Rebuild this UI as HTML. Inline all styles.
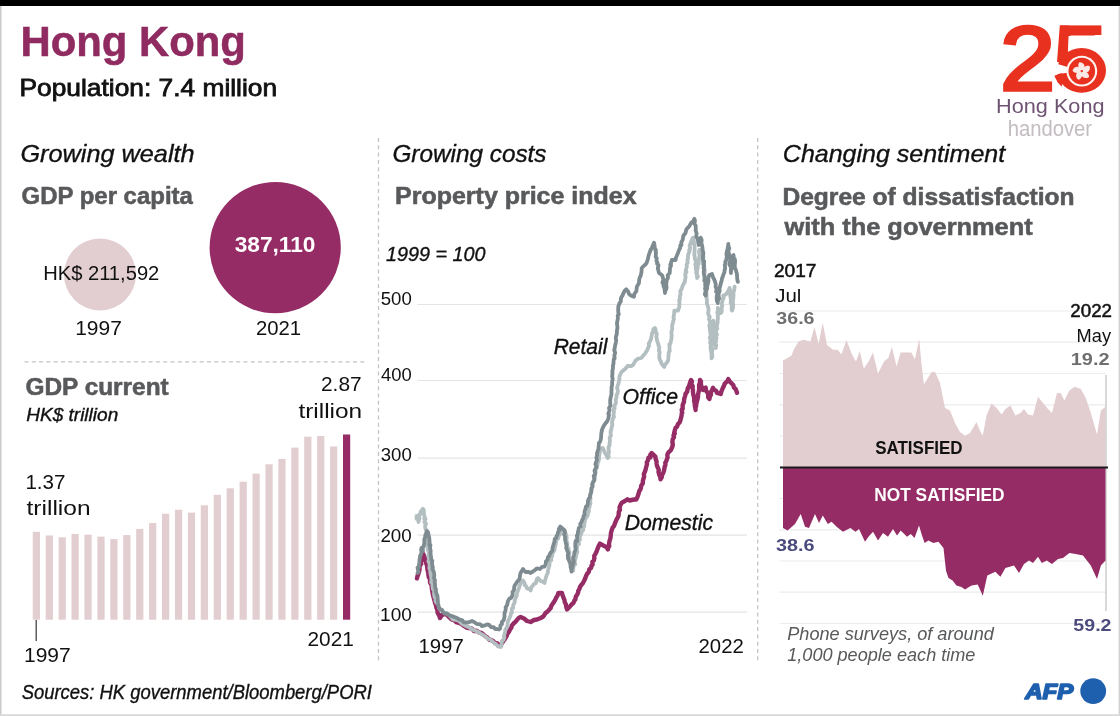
<!DOCTYPE html>
<html lang="en">
<head>
<meta charset="utf-8">
<title>Hong Kong</title>
<style>
html,body{margin:0;padding:0;background:#fff;}
body{width:1120px;height:716px;overflow:hidden;font-family:'Liberation Sans', sans-serif;}
svg{display:block;font-family:'Liberation Sans', sans-serif;}
</style>
</head>
<body>
<svg width="1120" height="716" viewBox="0 0 1120 716">
<rect x="0" y="0" width="1120" height="716" fill="#ffffff"/>
<rect x="0" y="0" width="1120" height="6" fill="#000000"/>
<rect x="0" y="6" width="1.5" height="710" fill="#c9c9c9"/>
<rect x="1118.6" y="6" width="1.4" height="710" fill="#d2d2d2"/>
<rect x="0" y="714.2" width="1120" height="1.8" fill="#dadada"/>
<text x="20.49" y="55.6" font-size="42" font-weight="bold" font-style="normal" fill="#8f2b60" textLength="225.29" lengthAdjust="spacingAndGlyphs" stroke="#8f2b60" stroke-width="0.5">Hong Kong</text>
<text x="19.54" y="95.5" font-size="23.4" font-weight="normal" font-style="normal" fill="#111" textLength="257.53" lengthAdjust="spacingAndGlyphs" stroke="#111" stroke-width="0.8">Population: 7.4 million</text>
<line x1="378.5" y1="138" x2="378.5" y2="661" stroke="#c4c4c4" stroke-width="1.3" stroke-dasharray="4 3.3"/>
<line x1="757.7" y1="138" x2="757.7" y2="661" stroke="#c4c4c4" stroke-width="1.3" stroke-dasharray="4 3.3"/>
<line x1="24.5" y1="361.8" x2="367" y2="361.8" stroke="#c4c4c4" stroke-width="1.3" stroke-dasharray="4 3.3"/>
<text x="20.42" y="161.7" font-size="24" font-weight="normal" font-style="italic" fill="#111" textLength="174.21" lengthAdjust="spacingAndGlyphs" stroke="#111" stroke-width="0.35">Growing wealth</text>
<text x="21.55" y="204.4" font-size="23.3" font-weight="bold" font-style="normal" fill="#58595b" textLength="171.30" lengthAdjust="spacingAndGlyphs" stroke="#58595b" stroke-width="0.55">GDP per capita</text>
<circle cx="100" cy="274.5" r="36" fill="#e2cdd0"/>
<circle cx="275.2" cy="247.6" r="65.6" fill="#962c65"/>
<text x="43.13" y="280" font-size="20.3" font-weight="normal" font-style="normal" fill="#111" textLength="116.19" lengthAdjust="spacingAndGlyphs">HK$ 211,592</text>
<text x="234.65" y="252.2" font-size="21.6" font-weight="bold" font-style="normal" fill="#ffffff" textLength="80.77" lengthAdjust="spacingAndGlyphs">387,110</text>
<text x="75.19" y="335" font-size="20.3" font-weight="normal" font-style="normal" fill="#111" textLength="46.66" lengthAdjust="spacingAndGlyphs">1997</text>
<text x="255.95" y="335" font-size="20.3" font-weight="normal" font-style="normal" fill="#111" textLength="45.17" lengthAdjust="spacingAndGlyphs">2021</text>
<text x="25.44" y="394.9" font-size="23.3" font-weight="bold" font-style="normal" fill="#58595b" textLength="143.28" lengthAdjust="spacingAndGlyphs" stroke="#58595b" stroke-width="0.55">GDP current</text>
<text x="26.20" y="421" font-size="17.8" font-weight="normal" font-style="italic" fill="#111" textLength="92.07" lengthAdjust="spacingAndGlyphs" stroke="#111" stroke-width="0.35">HK$ trillion</text>
<text x="321.02" y="391.3" font-size="20.5" font-weight="normal" font-style="normal" fill="#111" textLength="40.62" lengthAdjust="spacingAndGlyphs">2.87</text>
<text x="298.40" y="417.7" font-size="20.5" font-weight="normal" font-style="normal" fill="#111" textLength="63.77" lengthAdjust="spacingAndGlyphs">trillion</text>
<text x="25.41" y="488.7" font-size="20.5" font-weight="normal" font-style="normal" fill="#111" textLength="40.02" lengthAdjust="spacingAndGlyphs">1.37</text>
<text x="26.50" y="515" font-size="20.5" font-weight="normal" font-style="normal" fill="#111" textLength="64.08" lengthAdjust="spacingAndGlyphs">trillion</text>
<rect x="32.75" y="531.8" width="7.2" height="87.9" fill="#e2cdd0"/>
<rect x="45.68" y="535.5" width="7.2" height="84.2" fill="#e2cdd0"/>
<rect x="58.60" y="537.3" width="7.2" height="82.4" fill="#e2cdd0"/>
<rect x="71.53" y="534.0" width="7.2" height="85.7" fill="#e2cdd0"/>
<rect x="84.46" y="534.7" width="7.2" height="85.0" fill="#e2cdd0"/>
<rect x="97.39" y="536.6" width="7.2" height="83.1" fill="#e2cdd0"/>
<rect x="110.31" y="539.1" width="7.2" height="80.6" fill="#e2cdd0"/>
<rect x="123.24" y="535.1" width="7.2" height="84.6" fill="#e2cdd0"/>
<rect x="136.17" y="528.9" width="7.2" height="90.8" fill="#e2cdd0"/>
<rect x="149.09" y="523.1" width="7.2" height="96.6" fill="#e2cdd0"/>
<rect x="162.02" y="513.7" width="7.2" height="106.0" fill="#e2cdd0"/>
<rect x="174.95" y="509.7" width="7.2" height="110.0" fill="#e2cdd0"/>
<rect x="187.88" y="512.6" width="7.2" height="107.1" fill="#e2cdd0"/>
<rect x="200.80" y="505.3" width="7.2" height="114.4" fill="#e2cdd0"/>
<rect x="213.73" y="494.8" width="7.2" height="124.9" fill="#e2cdd0"/>
<rect x="226.66" y="488.3" width="7.2" height="131.4" fill="#e2cdd0"/>
<rect x="239.58" y="481.7" width="7.2" height="138.0" fill="#e2cdd0"/>
<rect x="252.51" y="473.7" width="7.2" height="146.0" fill="#e2cdd0"/>
<rect x="265.44" y="464.3" width="7.2" height="155.4" fill="#e2cdd0"/>
<rect x="278.36" y="458.9" width="7.2" height="160.8" fill="#e2cdd0"/>
<rect x="291.29" y="447.6" width="7.2" height="172.1" fill="#e2cdd0"/>
<rect x="304.22" y="436.7" width="7.2" height="183.0" fill="#e2cdd0"/>
<rect x="317.15" y="436.0" width="7.2" height="183.7" fill="#e2cdd0"/>
<rect x="330.07" y="446.5" width="7.2" height="173.2" fill="#e2cdd0"/>
<rect x="343.00" y="434.5" width="7.2" height="185.2" fill="#962c65"/>
<line x1="36.2" y1="620" x2="36.2" y2="641" stroke="#444" stroke-width="1.3"/>
<text x="23.99" y="661.5" font-size="20.3" font-weight="normal" font-style="normal" fill="#111" textLength="46.77" lengthAdjust="spacingAndGlyphs">1997</text>
<text x="307.52" y="645.9" font-size="20.3" font-weight="normal" font-style="normal" fill="#111" textLength="46.32" lengthAdjust="spacingAndGlyphs">2021</text>
<text x="21.71" y="699" font-size="19.6" font-weight="normal" font-style="italic" fill="#111" textLength="350.22" lengthAdjust="spacingAndGlyphs" stroke="#111" stroke-width="0.35">Sources: HK government/Bloomberg/PORI</text>
<text x="392.46" y="161.7" font-size="24" font-weight="normal" font-style="italic" fill="#111" textLength="154.02" lengthAdjust="spacingAndGlyphs" stroke="#111" stroke-width="0.35">Growing costs</text>
<text x="395.14" y="204.4" font-size="23.3" font-weight="bold" font-style="normal" fill="#58595b" textLength="241.40" lengthAdjust="spacingAndGlyphs" stroke="#58595b" stroke-width="0.55">Property price index</text>
<text x="385.99" y="260.7" font-size="20.3" font-weight="normal" font-style="italic" fill="#111" textLength="99.48" lengthAdjust="spacingAndGlyphs" stroke="#111" stroke-width="0.35">1999 = 100</text>
<line x1="417.5" y1="304.5" x2="747" y2="304.5" stroke="#e4e4e4" stroke-width="1.2"/>
<text x="380.72" y="304.6" font-size="18.2" font-weight="normal" font-style="normal" fill="#111" textLength="31.04" lengthAdjust="spacingAndGlyphs">500</text>
<line x1="417.5" y1="380.5" x2="747" y2="380.5" stroke="#e4e4e4" stroke-width="1.2"/>
<text x="381.01" y="380.6" font-size="18.2" font-weight="normal" font-style="normal" fill="#111" textLength="30.75" lengthAdjust="spacingAndGlyphs">400</text>
<line x1="417.5" y1="458.2" x2="747" y2="458.2" stroke="#e4e4e4" stroke-width="1.2"/>
<text x="380.72" y="461" font-size="18.2" font-weight="normal" font-style="normal" fill="#111" textLength="31.04" lengthAdjust="spacingAndGlyphs">300</text>
<line x1="417.5" y1="535.1" x2="747" y2="535.1" stroke="#e4e4e4" stroke-width="1.2"/>
<text x="380.42" y="541.5" font-size="18.2" font-weight="normal" font-style="normal" fill="#111" textLength="31.35" lengthAdjust="spacingAndGlyphs">200</text>
<line x1="417.5" y1="612.1" x2="747" y2="612.1" stroke="#e4e4e4" stroke-width="1.2"/>
<text x="380.11" y="620.5" font-size="18.2" font-weight="normal" font-style="normal" fill="#111" textLength="31.66" lengthAdjust="spacingAndGlyphs">100</text>
<text x="418.42" y="653.3" font-size="20.3" font-weight="normal" font-style="normal" fill="#111" textLength="45.40" lengthAdjust="spacingAndGlyphs">1997</text>
<text x="698.55" y="652.6" font-size="20.3" font-weight="normal" font-style="normal" fill="#111" textLength="45.28" lengthAdjust="spacingAndGlyphs">2022</text>
<polyline points="417.0,578.4 417.4,576.4 418.2,574.3 419.0,572.0 419.6,569.1 419.2,568.7 419.9,565.5 421.2,563.9 421.0,562.0 422.0,560.0 422.3,557.3 422.9,556.7 423.3,554.0 424.1,556.5 425.0,557.1 425.5,560.0 426.2,562.2 426.1,563.1 427.1,565.9 427.4,568.8 427.5,570.0 428.3,573.0 428.4,575.0 428.9,577.5 430.0,578.0 430.0,581.0 430.1,582.6 431.6,585.3 431.7,587.2 432.0,589.6 432.5,592.0 432.8,594.4 433.6,597.2 434.2,599.5 434.9,601.8 435.0,603.0 435.7,604.3 436.5,607.9 437.1,609.1 437.4,610.4 437.7,613.0 439.2,615.6 440.0,618.0 442.0,615.0 445.0,614.0 446.7,614.6 449.0,617.0 451.9,619.5 454.0,620.0 456.0,622.1 459.0,623.0 461.4,623.8 464.0,626.0 466.3,627.5 469.0,628.0 471.9,628.6 474.0,631.0 476.6,630.8 479.0,632.5 481.3,632.9 483.0,634.0 485.5,636.5 487.0,637.0 489.0,639.5 491.0,640.0 492.8,640.7 495.0,643.0 497.0,643.1 498.3,644.8 500.5,646.0 501.8,643.3 502.3,642.7 504.0,640.0 504.8,639.2 506.5,636.3 507.0,634.8 508.0,633.0 509.1,631.4 510.0,629.6 511.4,627.5 511.8,625.7 514.0,623.0 515.4,621.9 517.0,620.0 518.5,618.1 520.6,617.0 524.0,618.5 527.0,621.0 530.6,622.0 534.0,620.0 537.0,619.5 540.7,618.0 542.9,616.8 544.0,615.5 545.6,612.8 547.0,612.0 548.7,610.2 550.7,608.0 551.2,606.2 553.1,603.1 554.0,602.0 555.2,599.7 556.4,597.2 557.5,595.7 558.3,593.0 562.0,593.0 562.3,594.5 563.9,598.6 564.5,600.0 564.8,602.3 565.9,604.3 566.2,606.7 567.0,609.4 568.3,608.1 570.0,606.5 571.5,604.5 573.4,603.0 574.6,600.1 575.3,599.5 575.9,596.4 577.0,595.0 578.1,592.6 578.2,591.1 579.6,588.5 579.9,587.1 580.9,585.5 582.9,583.1 584.0,581.0 585.4,578.0 585.8,576.6 587.0,574.0 588.8,571.9 589.3,569.2 591.0,568.0 591.6,565.4 592.6,564.8 592.4,561.7 593.8,560.5 594.4,558.0 594.2,555.9 595.2,554.4 596.7,551.2 597.5,549.0 598.6,546.1 600.0,543.6 601.9,544.6 604.0,546.0 606.5,547.1 608.0,549.5 607.8,548.3 609.2,546.2 609.0,544.0 609.5,541.0 610.4,538.4 610.5,537.6 610.8,534.9 611.0,532.8 611.7,530.2 612.7,527.4 614.0,526.0 615.0,523.2 616.2,520.4 616.8,519.0 618.0,517.1 618.6,515.1 618.8,512.0 619.9,509.7 619.5,507.5 620.7,504.5 622.0,502.6 624.0,501.5 625.9,500.4 627.5,499.2 629.4,500.5 631.5,500.0 634.0,499.5 636.3,499.6 636.7,498.5 637.7,496.4 638.5,494.0 639.2,491.3 640.2,489.8 640.9,488.2 641.2,485.8 642.7,483.6 642.9,480.7 643.8,477.6 644.1,477.1 643.9,473.8 644.7,472.2 645.5,470.0 646.0,467.6 647.0,464.3 646.8,462.2 647.9,460.6 648.4,457.8 650.4,457.5 650.3,454.9 651.7,453.0 653.3,454.5 655.4,456.8 655.7,459.3 656.5,461.0 656.6,463.2 657.0,465.9 658.0,468.0 658.8,470.0 658.5,471.9 659.3,475.0 660.3,476.9 660.5,479.4 661.7,477.4 662.2,474.7 663.1,473.2 664.0,470.6 664.3,469.0 664.8,466.2 665.4,465.1 665.3,462.6 666.1,461.6 667.2,458.6 667.6,457.5 667.3,454.9 668.0,453.0 668.8,452.0 670.7,450.4 671.8,448.0 672.5,446.3 672.8,444.1 672.4,442.2 672.7,439.3 674.0,437.1 673.5,435.2 674.8,433.4 674.2,432.7 674.7,430.7 675.5,428.0 677.0,426.7 678.0,424.0 679.8,422.2 680.5,420.0 681.2,417.1 681.5,416.0 681.8,413.2 682.2,412.9 681.7,409.6 682.7,408.7 682.6,405.4 683.0,404.2 684.0,401.8 684.0,400.0 684.5,397.7 685.2,395.7 685.5,393.9 687.2,391.6 687.6,389.1 688.0,387.7 689.0,386.3 689.7,383.9 690.2,382.2 691.0,380.0 691.9,381.3 691.3,384.5 692.7,386.0 692.5,388.4 693.0,390.0 692.9,391.5 693.2,394.2 693.6,395.5 694.3,398.9 694.1,400.4 694.5,402.7 694.9,403.5 694.7,405.0 695.3,407.8 695.6,410.0 695.5,407.6 696.1,406.3 696.2,404.6 696.9,401.6 697.3,400.0 698.0,397.3 698.0,395.0 698.3,393.3 699.0,390.5 699.1,389.5 699.1,385.9 699.1,384.7 699.9,383.1 700.0,380.0 701.0,381.5 700.8,383.5 701.4,386.4 702.8,388.8 703.0,390.0 705.7,387.7 706.1,390.7 707.0,392.1 708.2,393.7 708.2,397.4 709.4,399.0 709.9,396.5 710.9,394.8 711.0,391.9 712.2,389.9 713.0,387.7 714.0,389.6 716.2,390.9 717.0,392.8 720.7,394.0 721.5,391.2 721.9,390.3 722.5,388.8 724.2,385.2 724.5,384.0 726.3,382.1 727.4,381.2 728.3,379.0 729.7,381.4 731.8,383.6 733.3,385.0 733.9,387.5 735.7,389.2 736.1,390.1 737.0,392.8" fill="none" stroke="#962c65" stroke-width="4.4" stroke-linejoin="round" stroke-linecap="round"/>
<polyline points="416.5,516.0 416.6,518.9 418.2,519.4 418.5,522.0 418.9,519.9 419.5,518.7 419.1,514.8 420.6,513.8 420.5,512.0 422.8,508.8 423.8,510.0 423.9,514.2 424.5,516.0 424.3,519.1 425.5,518.8 424.4,522.1 426.0,523.7 425.1,525.8 425.1,527.3 426.0,530.0 426.1,532.0 425.9,533.3 426.1,535.9 426.4,536.8 427.3,540.1 427.2,541.2 427.9,544.9 426.8,545.6 427.5,548.0 428.1,550.5 428.6,551.8 428.7,554.4 428.1,556.2 429.2,558.9 428.8,560.2 428.4,561.4 429.7,563.8 429.5,566.0 429.3,568.1 430.4,570.4 430.2,571.8 430.7,574.7 431.0,575.7 431.2,576.8 431.5,580.0 431.2,582.5 432.9,584.2 432.4,585.2 432.9,589.2 433.7,590.1 434.2,591.3 434.0,594.0 434.6,597.4 435.4,598.4 435.5,600.9 436.5,603.0 438.4,604.3 439.0,608.0 440.9,610.3 442.0,611.0 444.6,612.6 446.0,613.0 448.1,614.4 449.4,615.5 451.0,617.0 452.8,619.4 456.0,620.0 458.6,620.7 461.0,623.0 463.5,624.5 466.0,626.0 468.3,626.9 471.0,628.5 473.6,630.1 476.0,631.0 478.7,632.4 481.0,634.0 482.8,634.8 486.0,637.0 488.0,638.7 491.0,640.0 493.2,642.1 494.8,643.5 496.0,644.0 497.9,646.4 500.5,647.0 501.8,643.6 501.8,641.1 503.5,640.0 504.4,637.4 503.9,636.3 504.8,632.9 505.0,632.1 505.5,629.4 506.5,628.0 507.5,625.8 507.6,623.8 507.8,621.6 509.0,619.0 509.2,618.7 510.5,615.7 511.1,613.0 511.9,612.6 511.7,608.7 513.0,608.0 513.0,606.5 513.5,604.5 514.8,602.1 514.6,601.2 515.5,598.0 516.8,595.5 516.8,593.4 518.0,590.5 518.7,588.5 519.4,586.5 520.5,584.0 521.1,581.7 523.0,580.5 524.7,583.3 524.7,585.1 526.0,586.0 527.2,588.6 529.4,588.8 530.6,590.5 531.4,587.1 533.4,585.0 534.0,584.0 535.8,583.2 536.8,579.2 538.0,578.0 540.1,580.7 541.0,581.0 543.1,582.0 544.5,583.0 545.0,580.5 545.4,579.3 546.4,576.0 546.6,575.1 547.9,572.6 548.0,570.3 548.4,569.0 549.6,564.6 549.4,563.6 549.6,561.2 551.3,560.3 551.0,556.9 552.1,556.4 552.4,553.6 553.8,551.2 554.5,550.1 554.6,548.8 555.4,545.6 555.8,543.9 556.3,540.3 558.3,538.1 558.4,536.6 559.8,534.5 560.9,531.6 561.4,529.6 564.9,530.6 565.1,532.2 566.3,535.2 566.8,538.1 566.0,539.4 566.4,540.3 567.4,543.6 567.1,546.6 568.6,548.7 568.3,550.3 569.3,551.8 569.4,553.5 569.0,555.8 570.6,558.6 570.4,560.6 571.6,562.5 571.3,565.3 572.7,565.4 573.1,567.6 573.4,570.6 573.2,569.6 573.5,565.9 575.3,564.4 574.3,561.8 574.9,561.2 575.1,559.6 575.8,557.8 576.4,554.6 577.4,552.1 576.8,550.5 576.9,549.0 577.2,545.4 579.0,544.1 578.8,542.5 578.8,539.5 580.0,539.8 579.8,536.6 581.4,533.4 581.2,532.4 583.2,530.0 583.4,527.6 584.3,526.0 584.2,523.7 584.9,521.0 585.2,519.1 586.4,517.6 587.7,515.5 587.8,514.0 588.9,511.3 588.5,509.2 589.4,507.6 589.4,506.4 590.5,503.1 589.9,501.6 590.5,499.7 590.3,496.3 590.5,494.4 591.2,492.4 591.4,491.4 591.2,489.6 592.0,487.9 592.7,486.0 592.6,483.0 594.0,479.8 594.7,478.0 594.9,477.9 594.9,474.6 595.8,472.1 595.2,470.5 596.9,468.0 597.3,465.5 597.8,463.2 597.4,463.3 598.5,461.3 599.1,458.9 599.0,456.2 599.8,452.8 600.0,451.0 601.2,448.6 602.7,448.0 604.2,450.9 605.0,453.0 606.0,454.4 607.7,458.0 608.7,456.8 608.3,454.1 609.0,451.9 608.6,449.6 608.6,446.8 609.5,445.8 609.5,444.0 609.9,440.9 609.8,439.1 609.7,437.4 611.0,435.7 610.6,434.3 610.6,430.8 611.3,430.0 611.5,428.0 612.0,425.8 612.4,424.6 612.0,422.0 612.7,419.3 612.9,418.2 614.0,417.0 613.4,414.4 614.0,412.0 613.6,408.8 614.6,408.7 614.4,406.3 615.8,403.0 615.9,402.2 615.7,399.8 616.5,397.4 616.5,395.0 617.4,393.8 617.9,390.8 617.1,387.8 617.5,386.4 618.3,384.0 619.1,380.6 619.4,380.0 619.3,377.3 620.0,375.0 621.5,372.0 622.8,370.9 624.0,369.8 625.4,368.7 627.8,365.8 631.6,366.0 633.3,364.6 633.8,363.6 635.4,360.8 637.9,358.7 639.0,358.5 641.4,358.0 642.9,355.8 644.4,354.4 645.4,353.0 647.4,349.7 648.0,348.0 649.1,345.8 648.7,343.5 649.3,342.9 651.2,338.8 651.2,337.5 651.7,335.7 652.0,333.3 653.0,332.5 653.4,329.1 655.0,328.0 655.3,328.9 656.0,332.5 656.8,333.7 656.4,336.7 656.8,338.9 657.2,341.3 658.0,343.0 658.7,346.0 659.3,347.6 658.9,350.6 659.7,352.1 659.4,353.6 659.3,357.1 659.6,359.2 660.5,360.8 661.8,364.0 663.4,366.1 664.3,367.0 665.0,364.9 666.9,362.4 668.0,360.8 668.3,358.4 668.5,355.5 668.7,354.7 668.7,352.5 669.7,351.2 669.5,349.1 669.6,346.0 669.3,344.2 670.4,343.7 671.0,340.8 671.5,338.6 671.5,336.5 671.7,335.9 671.3,331.9 671.8,330.7 672.2,328.8 672.1,325.4 672.4,324.5 672.7,323.6 673.2,321.2 673.9,319.3 673.5,317.2 674.0,315.0 674.2,312.4 674.3,310.6 678.0,310.6 678.5,308.9 679.2,307.3 679.3,305.2 679.5,302.8 679.1,300.0 679.9,299.5 679.9,295.7 680.6,294.5 680.3,291.4 680.6,290.5 681.6,289.2 682.4,286.4 683.7,283.7 684.4,283.0 684.7,282.0 685.3,278.6 685.6,277.0 685.2,273.9 686.5,271.9 685.6,271.2 686.5,268.0 686.8,266.8 686.6,264.5 687.7,262.8 687.4,260.2 688.0,257.8 688.0,255.8 688.3,254.2 689.7,250.9 689.1,250.3 690.2,247.9 689.6,245.9 690.7,242.7 692.0,239.7 693.0,237.7 693.1,240.4 693.9,241.1 693.9,243.1 694.6,245.9 694.7,248.7 694.5,249.7 694.6,251.4 694.3,255.0 694.8,257.2 694.9,259.2 695.8,260.2 695.7,262.8 695.3,264.7 696.1,266.1 695.8,268.2 696.6,272.5 696.2,272.5 697.1,276.6 697.0,278.0 697.9,276.3 697.1,274.8 696.9,272.5 697.1,269.7 697.8,267.7 697.5,265.3 698.7,263.9 698.5,261.3 698.9,259.6 698.9,259.0 699.6,254.9 699.5,254.9 699.0,251.7 699.4,250.0 702.0,250.0 702.3,253.1 702.3,255.1 703.1,255.4 703.5,257.2 702.6,260.9 702.7,262.2 703.0,264.5 704.3,267.7 703.3,267.7 704.8,269.8 704.5,273.0 704.4,274.2 704.3,276.0 705.3,280.0 705.5,282.3 705.7,283.3 705.9,286.9 706.1,287.2 705.4,291.0 706.4,291.7 706.6,294.3 706.6,295.2 706.6,298.2 707.0,300.5 706.9,303.6 707.5,305.3 708.3,307.7 708.6,309.9 708.2,312.6 708.4,314.7 709.7,316.7 709.5,318.0 708.9,319.0 710.2,322.0 709.6,325.3 709.2,326.1 709.9,327.1 709.9,330.6 710.8,330.9 710.3,333.1 710.9,335.1 709.8,337.9 710.9,339.7 710.1,342.9 711.3,345.1 710.6,346.0 710.6,348.4 710.8,349.8 711.6,353.4 711.4,353.3 711.6,356.2 711.5,358.3 712.3,356.8 712.2,354.6 711.9,353.0 712.4,349.4 711.5,347.5 712.1,344.7 712.0,343.8 711.6,342.3 712.6,339.0 712.2,337.0 712.3,335.9 712.7,333.2 712.3,332.1 712.6,328.5 712.4,328.1 713.1,325.8 713.8,323.9 713.3,320.6 714.0,323.8 714.3,325.6 713.3,327.0 714.2,330.3 714.7,331.6 714.8,332.9 715.3,335.7 714.7,337.4 715.8,339.6 714.7,340.8 715.7,343.9 716.2,345.1 715.8,348.0 715.8,346.6 715.3,343.0 716.2,341.4 715.6,339.4 716.5,338.1 715.8,334.9 717.0,334.4 716.1,332.9 716.0,329.7 717.3,328.5 716.6,327.0 717.1,324.9 717.7,321.8 717.5,320.1 718.0,318.7 717.7,316.8 718.2,313.4 717.2,312.6 718.1,310.0 717.8,308.0 719.3,310.3 720.8,313.0 721.7,311.6 721.6,307.5 722.3,306.3 721.6,303.7 722.6,300.8 722.1,299.4 723.6,298.3 723.3,295.5 725.9,294.4 727.0,293.0 728.4,290.6 729.6,288.0 729.9,290.2 730.5,293.2 730.1,294.5 730.2,295.7 730.7,298.5 731.0,301.5 730.6,302.7 732.1,305.0 731.7,306.2 731.6,309.6 732.0,310.6 732.8,309.0 733.0,307.7 733.2,304.3 732.8,303.4 732.9,301.3 733.3,298.2 733.5,295.7 733.5,294.5 733.2,291.9 733.8,291.6 734.5,288.2 734.6,286.7" fill="none" stroke="#b3bec1" stroke-width="3.8" stroke-linejoin="round" stroke-linecap="round"/>
<polyline points="417.5,573.0 418.5,572.0 417.5,567.6 419.0,567.1 419.1,563.9 419.3,562.4 419.5,560.0 420.0,557.1 420.1,555.7 420.8,555.2 421.5,552.1 421.1,549.4 421.5,548.0 423.0,551.0 422.6,547.7 423.6,546.2 423.8,545.5 424.4,542.5 424.3,539.0 425.0,538.0 425.4,534.8 426.3,534.6 427.0,531.0 428.0,532.2 428.5,535.0 429.3,537.9 429.4,540.3 429.6,542.2 429.3,544.9 430.4,545.0 430.0,548.0 430.7,550.7 430.5,552.4 430.8,555.5 431.1,557.4 431.2,559.7 432.3,560.8 432.0,563.0 432.4,566.2 432.9,567.3 432.4,569.0 433.4,570.7 434.0,573.1 434.3,575.4 434.0,578.0 435.0,580.5 434.6,582.0 435.1,584.2 434.9,585.3 435.4,589.1 435.9,588.9 436.0,592.0 436.9,594.8 437.4,595.6 437.6,597.5 437.8,600.2 438.0,603.0 438.3,605.9 438.7,607.1 440.0,609.0 442.0,609.9 443.0,612.0 444.6,613.7 447.0,613.5 449.4,615.3 452.0,616.0 453.8,616.7 457.0,618.0 459.0,619.4 462.0,620.0 463.9,622.4 467.0,622.5 468.8,622.3 472.0,621.0 473.8,621.9 477.0,624.0 480.0,624.1 482.0,626.0 484.0,625.7 487.0,624.5 488.8,624.6 491.0,627.0 493.7,627.1 495.0,629.0 496.3,628.9 499.0,629.5 500.2,628.3 500.4,625.4 502.0,624.0 501.8,621.9 503.4,620.6 504.1,618.6 504.5,616.5 504.5,613.3 505.0,612.0 505.8,609.3 505.6,607.5 507.4,604.5 507.5,602.9 508.0,601.0 509.5,598.6 511.0,598.0 512.4,595.4 512.7,593.8 512.5,592.1 514.0,590.0 514.2,586.9 514.8,585.2 515.6,584.3 517.0,582.0 518.0,580.9 519.7,578.6 520.0,575.0 520.6,572.9 521.6,571.2 523.0,569.0 524.7,571.3 526.0,572.0 528.6,571.9 530.6,573.0 532.7,571.6 535.0,570.0 536.8,568.3 540.0,569.0 542.1,566.9 544.5,566.7 545.8,563.8 545.9,561.4 547.5,560.0 547.9,557.3 549.2,555.9 549.7,554.4 550.4,553.0 552.4,550.6 552.5,548.0 553.1,546.0 554.0,542.9 554.4,542.1 554.7,539.0 556.3,537.7 556.5,536.0 557.3,535.2 558.2,531.7 559.5,530.0 558.8,528.9 560.3,526.5 561.6,527.8 564.1,530.0 565.0,532.6 564.1,534.2 565.0,536.4 565.0,538.8 565.2,540.2 566.0,543.9 566.5,545.0 566.2,547.8 566.8,549.4 567.5,551.3 568.4,553.2 567.8,554.7 568.1,558.6 569.3,561.0 569.5,562.0 570.3,563.2 570.7,567.5 571.3,569.3 571.5,571.7 571.6,569.4 572.6,566.7 572.5,565.1 573.5,563.7 573.8,561.6 573.2,557.9 573.8,555.8 574.1,554.6 574.5,552.0 575.5,550.2 575.7,547.0 575.3,547.2 575.3,543.8 575.6,541.0 577.1,541.2 577.1,537.1 576.9,535.3 577.8,534.5 577.9,532.0 578.5,530.1 578.8,528.1 580.7,526.6 580.2,524.0 581.5,522.0 582.4,519.4 583.3,517.9 583.6,515.8 584.6,514.7 584.5,512.0 585.5,508.9 586.1,506.3 587.2,506.2 587.9,503.0 587.9,500.9 588.9,498.5 589.8,497.7 590.3,494.4 591.2,491.9 591.4,490.5 591.5,488.0 592.4,486.9 592.2,484.3 593.0,482.4 594.4,480.3 594.2,478.0 593.7,475.8 595.0,474.8 595.2,472.5 594.5,470.7 595.9,467.8 596.4,466.4 595.4,464.2 596.7,460.5 596.9,459.4 596.4,457.9 597.1,455.0 597.0,453.1 598.0,450.1 598.6,448.4 598.6,447.5 598.9,442.9 600.0,442.0 600.4,440.8 601.0,438.6 601.1,436.4 601.3,433.4 601.9,430.8 601.7,430.6 602.7,428.0 603.4,426.6 605.0,424.0 606.8,421.8 607.7,420.0 608.3,418.7 609.0,415.1 608.3,413.7 609.2,411.5 609.6,410.0 609.0,408.1 610.6,405.6 610.2,403.5 610.2,402.7 610.2,400.1 610.6,397.8 611.4,394.6 611.5,393.1 611.4,392.2 611.6,389.2 611.5,387.4 612.2,384.3 612.1,382.9 612.1,381.9 612.7,379.2 612.1,376.1 612.5,374.0 612.4,373.7 612.4,371.2 613.0,367.9 613.0,365.1 613.5,364.0 613.6,361.0 613.8,359.1 614.7,358.5 614.3,355.6 615.2,352.7 614.2,350.3 614.5,349.2 615.0,346.2 615.4,344.4 616.0,341.6 616.2,340.5 615.8,338.8 615.9,336.8 616.9,333.7 616.8,332.7 617.0,330.1 617.4,328.4 617.4,326.4 616.9,323.3 617.4,320.9 617.9,318.4 617.7,315.7 618.8,313.9 618.4,313.1 618.2,311.1 618.3,306.5 618.9,305.1 619.4,303.3 620.8,301.6 621.0,298.0 622.6,295.3 623.5,293.0 624.9,290.5 626.2,289.3 628.1,291.4 629.0,294.0 631.2,295.7 634.0,296.7 634.3,294.0 636.3,291.2 636.5,290.0 636.8,286.9 637.8,285.1 639.0,283.0 639.1,280.4 639.6,277.9 640.7,275.8 641.0,274.0 641.5,272.2 641.7,268.2 643.0,266.6 645.4,264.5 646.7,262.8 647.7,259.6 647.9,259.1 648.5,256.0 648.9,254.7 650.0,251.7 650.5,250.0 652.1,247.9 652.2,246.6 652.9,245.4 654.0,242.7 654.5,245.1 654.8,248.2 655.9,250.0 655.5,251.1 656.0,252.4 655.7,256.9 656.7,257.8 656.5,261.1 657.6,263.2 657.1,263.8 658.5,265.3 657.8,268.3 658.2,269.9 659.0,273.0 661.8,275.0 662.5,276.2 663.4,279.9 662.4,282.7 663.5,284.0 663.5,286.2 664.3,287.6 664.6,289.7 665.0,293.0 665.0,291.9 666.3,288.8 666.6,287.5 666.2,284.4 666.6,281.3 667.0,279.4 668.0,278.0 667.7,275.3 668.6,274.3 669.7,273.0 669.9,270.0 670.0,268.0 671.1,265.2 670.3,264.8 671.5,261.3 671.8,260.0 675.6,260.0 676.0,257.5 676.8,255.8 677.5,254.0 678.1,252.7 679.0,250.0 680.1,248.1 680.3,245.4 681.4,245.1 681.3,242.3 682.6,240.1 683.0,237.7 683.5,235.5 685.5,233.0 686.3,229.5 688.0,227.6 689.6,225.7 691.0,223.0 692.9,221.5 694.4,218.8 695.0,220.8 694.3,223.6 695.7,225.8 695.7,225.8 695.8,229.0 695.6,230.2 696.6,233.5 696.2,236.7 697.0,237.7 698.3,241.1 698.1,242.0 698.7,245.0 698.9,243.4 700.3,239.6 700.7,237.7 701.7,240.3 701.3,242.4 701.8,245.0 702.4,247.1 702.5,248.5 702.8,251.0 703.4,253.1 703.0,256.0 702.9,258.1 703.1,260.1 704.1,261.3 704.0,264.5 704.2,265.9 703.8,267.6 704.0,269.4 703.7,271.9 703.9,273.9 704.5,276.0 704.7,277.7 704.3,280.6 705.4,281.8 705.2,285.1 705.7,287.3 705.0,288.3 705.9,290.7 704.8,294.3 705.7,295.5 705.6,292.9 706.1,290.7 707.1,288.8 707.1,286.9 707.5,285.0 708.4,281.8 708.4,280.1 708.2,279.3 708.9,275.9 709.5,275.0 712.0,274.0 713.1,277.5 714.0,279.0 714.8,281.0 715.7,284.0 715.8,285.0 715.5,286.5 716.9,290.1 716.0,291.5 717.3,293.2 717.2,295.1 716.7,296.3 716.7,299.4 717.0,301.3 717.8,303.0 717.9,300.6 719.1,298.3 718.7,296.1 718.6,293.5 719.3,292.0 719.7,290.5 719.4,288.6 720.7,284.1 720.8,283.0 721.7,280.8 722.1,278.0 722.7,277.0 723.3,274.7 724.4,272.5 724.6,270.0 725.2,268.6 724.8,264.8 725.5,263.1 725.3,261.6 726.2,260.3 726.5,258.0 727.0,257.1 726.4,254.1 726.7,252.4 727.4,249.1 727.5,248.4 728.0,247.1 728.3,244.0 728.3,245.6 729.3,248.3 728.3,250.7 728.8,253.1 729.4,254.8 730.0,256.0 729.6,258.0 730.5,259.0 729.7,263.1 729.4,264.9 731.1,267.1 731.1,267.7 730.8,271.1 730.9,273.0 731.1,270.5 732.0,267.7 731.2,266.5 732.2,264.0 733.2,262.6 733.1,259.0 733.7,256.1 733.4,255.0 733.4,257.9 734.7,259.0 735.1,260.5 735.0,262.5 734.8,264.9 734.8,267.6 735.9,270.0 736.3,271.8 736.9,273.6 737.1,277.1 737.4,280.4 737.9,281.7" fill="none" stroke="#7e8b90" stroke-width="3.8" stroke-linejoin="round" stroke-linecap="round"/>
<text x="553.67" y="353.5" font-size="21.3" font-weight="normal" font-style="italic" fill="#111" textLength="53.74" lengthAdjust="spacingAndGlyphs" stroke="#111" stroke-width="0.35">Retail</text>
<text x="622.50" y="403.5" font-size="21.3" font-weight="normal" font-style="italic" fill="#111" textLength="55.53" lengthAdjust="spacingAndGlyphs" stroke="#111" stroke-width="0.35">Office</text>
<text x="624.67" y="529.5" font-size="21.3" font-weight="normal" font-style="italic" fill="#111" textLength="88.33" lengthAdjust="spacingAndGlyphs" stroke="#111" stroke-width="0.35">Domestic</text>
<text x="782.83" y="162" font-size="24" font-weight="normal" font-style="italic" fill="#111" textLength="222.31" lengthAdjust="spacingAndGlyphs" stroke="#111" stroke-width="0.35">Changing sentiment</text>
<text x="782.46" y="204.6" font-size="23.3" font-weight="bold" font-style="normal" fill="#58595b" textLength="292.12" lengthAdjust="spacingAndGlyphs" stroke="#58595b" stroke-width="0.55">Degree of dissatisfaction</text>
<text x="784.40" y="234.5" font-size="23.3" font-weight="bold" font-style="normal" fill="#58595b" textLength="248.33" lengthAdjust="spacingAndGlyphs" stroke="#58595b" stroke-width="0.55">with the government</text>
<line x1="779.5" y1="311.0" x2="1106" y2="311.0" stroke="#ececec" stroke-width="1.2"/>
<line x1="779.5" y1="342.2" x2="1106" y2="342.2" stroke="#ececec" stroke-width="1.2"/>
<line x1="779.5" y1="373.5" x2="1106" y2="373.5" stroke="#ececec" stroke-width="1.2"/>
<line x1="779.5" y1="404.8" x2="1106" y2="404.8" stroke="#ececec" stroke-width="1.2"/>
<line x1="779.5" y1="436.0" x2="1106" y2="436.0" stroke="#ececec" stroke-width="1.2"/>
<line x1="779.5" y1="467.2" x2="1106" y2="467.2" stroke="#ececec" stroke-width="1.2"/>
<line x1="779.5" y1="498.5" x2="1106" y2="498.5" stroke="#ececec" stroke-width="1.2"/>
<line x1="779.5" y1="529.8" x2="1106" y2="529.8" stroke="#ececec" stroke-width="1.2"/>
<line x1="779.5" y1="561.0" x2="1106" y2="561.0" stroke="#ececec" stroke-width="1.2"/>
<line x1="779.5" y1="592.2" x2="1106" y2="592.2" stroke="#ececec" stroke-width="1.2"/>
<line x1="779.5" y1="623.5" x2="1106" y2="623.5" stroke="#ececec" stroke-width="1.2"/>
<line x1="1106" y1="375" x2="1106" y2="611" stroke="#b8b8b8" stroke-width="1.1"/>
<polygon points="783,467.5 783.0,360.4 791.4,355.7 793.7,349.8 798.5,341.4 803.3,339.8 810.4,341.4 814.4,327.2 818.7,343.8 822.7,322.4 827.0,345.0 833.0,349.8 837.7,349.8 841.3,354.5 846.5,340.3 852.0,354.5 856.0,361.6 859.8,351.0 863.8,368.8 868.6,361.6 872.9,352.6 878.0,373.5 884.0,361.6 888.3,358.0 891.9,346.9 896.6,366.4 900.6,352.6 911.3,352.6 914.9,359.3 919.2,339.0 921.5,364.0 923.9,384.2 931.5,372.3 935.0,371.7 940.0,383.0 945.0,408.0 950.0,410.6 955.0,423.0 960.0,432.0 965.0,435.7 970.0,433.0 976.5,422.0 980.0,430.7 982.8,435.7 986.5,415.6 991.5,403.6 996.6,408.0 1001.6,414.4 1005.4,409.0 1010.4,405.6 1015.4,415.6 1020.5,413.0 1024.0,409.0 1028.0,414.4 1033.0,415.6 1038.0,396.8 1043.0,403.0 1048.0,409.0 1052.0,413.0 1057.0,393.0 1060.7,393.0 1064.4,400.5 1069.4,390.5 1074.5,386.7 1080.8,389.0 1085.8,398.0 1090.8,413.0 1097.0,434.5 1100.9,410.6 1105.5,406.8 1105.5,467.5" fill="#e2cdd0"/>
<polygon points="783,467.5 783.0,528.0 787.6,530.5 795.0,524.0 800.7,514.0 805.0,526.7 809.0,528.0 815.0,514.0 819.0,523.0 822.8,515.4 827.8,524.0 831.6,521.7 836.6,526.7 842.9,531.8 850.4,528.0 855.5,531.8 859.0,529.0 865.0,541.8 868.5,536.8 873.0,531.8 878.0,540.6 883.0,533.0 888.0,536.8 893.0,529.0 897.0,535.5 900.7,530.5 907.0,536.8 910.8,534.0 914.5,538.0 919.0,525.5 922.0,535.5 924.6,543.0 928.4,540.6 933.4,543.0 938.4,541.8 943.5,548.0 946.0,570.7 948.5,578.0 952.6,580.6 956.4,585.6 961.4,586.9 965.0,589.4 971.5,585.6 977.7,584.4 982.8,595.7 987.3,575.6 995.3,571.8 1000.4,576.8 1005.4,568.0 1014.0,565.5 1019.0,573.0 1024.0,564.0 1029.0,560.5 1033.0,563.0 1038.0,556.7 1041.8,563.0 1046.8,560.5 1051.9,564.0 1058.0,559.0 1063.0,558.0 1069.4,553.0 1075.7,554.0 1083.0,555.5 1090.8,565.5 1097.0,579.0 1100.9,565.5 1105.5,560.5 1105.5,467.5" fill="#962c65"/>
<line x1="780" y1="467.5" x2="1108" y2="467.5" stroke="#1a1a1a" stroke-width="2"/>
<text x="773.91" y="277.2" font-size="18" font-weight="normal" font-style="normal" fill="#111" textLength="42.47" lengthAdjust="spacingAndGlyphs" stroke="#111" stroke-width="0.5">2017</text>
<text x="775.18" y="302" font-size="18" font-weight="normal" font-style="normal" fill="#111" textLength="26.17" lengthAdjust="spacingAndGlyphs">Jul</text>
<text x="776.39" y="324.3" font-size="17.2" font-weight="bold" font-style="normal" fill="#6d6e70" textLength="38.09" lengthAdjust="spacingAndGlyphs">36.6</text>
<text x="1070.32" y="317.2" font-size="18" font-weight="normal" font-style="normal" fill="#111" textLength="41.64" lengthAdjust="spacingAndGlyphs" stroke="#111" stroke-width="0.5">2022</text>
<text x="1076.58" y="342.3" font-size="18.7" font-weight="normal" font-style="normal" fill="#111" textLength="34.42" lengthAdjust="spacingAndGlyphs">May</text>
<text x="1070.76" y="364.6" font-size="17.2" font-weight="bold" font-style="normal" fill="#6d6e70" textLength="38.74" lengthAdjust="spacingAndGlyphs">19.2</text>
<text x="775.99" y="550.6" font-size="17.2" font-weight="bold" font-style="normal" fill="#4b4a7d" textLength="38.50" lengthAdjust="spacingAndGlyphs">38.6</text>
<text x="1073.39" y="631.4" font-size="17.2" font-weight="bold" font-style="normal" fill="#4b4a7d" textLength="38.09" lengthAdjust="spacingAndGlyphs">59.2</text>
<text x="875.13" y="453.9" font-size="18.7" font-weight="bold" font-style="normal" fill="#111" textLength="87.45" lengthAdjust="spacingAndGlyphs">SATISFIED</text>
<text x="874.32" y="501" font-size="18.7" font-weight="bold" font-style="normal" fill="#ffffff" textLength="130.28" lengthAdjust="spacingAndGlyphs">NOT SATISFIED</text>
<text x="787.22" y="639.5" font-size="18.2" font-weight="normal" font-style="italic" fill="#58595b" textLength="206.60" lengthAdjust="spacingAndGlyphs">Phone surveys, of around</text>
<text x="787.22" y="661.3" font-size="18.2" font-weight="normal" font-style="italic" fill="#58595b" textLength="188.23" lengthAdjust="spacingAndGlyphs">1,000 people each time</text>
<text x="1000.14" y="90.2" font-size="91" font-weight="normal" font-style="normal" fill="#e8311f" textLength="55.29" lengthAdjust="spacingAndGlyphs" stroke="#e8311f" stroke-width="3.4" stroke-linejoin="miter">2</text>
<text x="1053.95" y="88.5" font-size="87" font-weight="normal" font-style="normal" fill="#e8311f" textLength="47.08" lengthAdjust="spacingAndGlyphs" stroke="#e8311f" stroke-width="1" stroke-linejoin="round">5</text>
<ellipse cx="1081.5" cy="70.6" rx="26" ry="24" fill="#ffffff"/>
<rect x="1070.5" y="35.5" width="34" height="14" fill="#ffffff"/>
<rect x="1060" y="25.4" width="41.4" height="9.6" fill="#e8311f"/>
<polygon points="1059.8,25.4 1068.8,25.4 1067.6,62 1057,62" fill="#e8311f"/>
<ellipse cx="1081.6" cy="70.4" rx="24.4" ry="22.3" fill="#e8311f"/>
<polygon points="1081.3,71.1 1048,61.2 1048,75.2" fill="#ffffff"/>
<polygon points="1054.3,75.8 1061.5,73.2 1064.5,78 1061.5,86.5 1057.6,82.2" fill="#e8311f"/>
<circle cx="1081.8" cy="71.1" r="15.4" fill="#fff4f0"/>
<circle cx="1081.8" cy="71.1" r="13.3" fill="#e8311f"/>
<path transform="rotate(-8 1081.8 71.1)" d="M1081.8 71.1 C1078.9 68.6 1078 64.6 1080.6 61.9 C1084.4 62.3 1086.4 65.9 1084.5 69 C1083.8 70.1 1082.9 70.8 1081.8 71.1Z" fill="#fbe9e6"/><path transform="rotate(64 1081.8 71.1)" d="M1081.8 71.1 C1078.9 68.6 1078 64.6 1080.6 61.9 C1084.4 62.3 1086.4 65.9 1084.5 69 C1083.8 70.1 1082.9 70.8 1081.8 71.1Z" fill="#fbe9e6"/><path transform="rotate(136 1081.8 71.1)" d="M1081.8 71.1 C1078.9 68.6 1078 64.6 1080.6 61.9 C1084.4 62.3 1086.4 65.9 1084.5 69 C1083.8 70.1 1082.9 70.8 1081.8 71.1Z" fill="#fbe9e6"/><path transform="rotate(208 1081.8 71.1)" d="M1081.8 71.1 C1078.9 68.6 1078 64.6 1080.6 61.9 C1084.4 62.3 1086.4 65.9 1084.5 69 C1083.8 70.1 1082.9 70.8 1081.8 71.1Z" fill="#fbe9e6"/><path transform="rotate(280 1081.8 71.1)" d="M1081.8 71.1 C1078.9 68.6 1078 64.6 1080.6 61.9 C1084.4 62.3 1086.4 65.9 1084.5 69 C1083.8 70.1 1082.9 70.8 1081.8 71.1Z" fill="#fbe9e6"/>
<circle cx="1081.8" cy="71.1" r="1.2" fill="#e8311f"/>
<text x="996.11" y="113.2" font-size="20.2" font-weight="normal" font-style="normal" fill="#6e5272" textLength="108.41" lengthAdjust="spacingAndGlyphs">Hong Kong</text>
<text x="1007.74" y="135.5" font-size="21.3" font-weight="normal" font-style="normal" fill="#c3bcc1" textLength="84.36" lengthAdjust="spacingAndGlyphs">handover</text>
<text x="1025.16" y="698.9" font-size="21.6" font-weight="bold" font-style="italic" fill="#1e5fae" textLength="48.33" lengthAdjust="spacingAndGlyphs" stroke="#1e5fae" stroke-width="1.6" stroke-linejoin="round">AFP</text>
<circle cx="1093.2" cy="691.1" r="12.9" fill="#1e5fae"/>
</svg>
</body>
</html>
